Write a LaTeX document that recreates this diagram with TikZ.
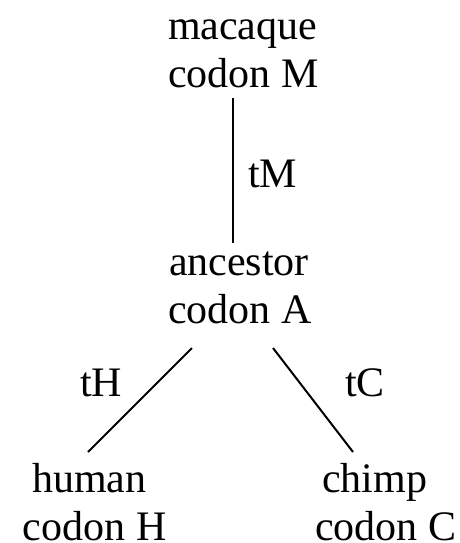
\documentclass[tikz,border=0pt]{standalone}
\usepackage{fontspec}
\setmainfont{Liberation Serif}
\begin{document}
\begin{tikzpicture}[x=1pt,y=-1pt,
  lbl/.style={inner sep=0pt,outer sep=0pt,anchor=base west,font=\fontsize{42}{48}\selectfont},
  edge/.style={line width=2pt,black}]
\useasboundingbox (0,0) rectangle (459,543);
% texts
\node[lbl] (macaque) at (168,40) {macaque};
\node[lbl] (codonM) at (168,88) {codon M};
\node[lbl] (tM) at (248,187) {tM};
\node[lbl] (ancestor) at (169,275) {ancestor};
\node[lbl] (codonA) at (168,323) {codon A};
\node[lbl] (tH) at (80,396) {tH};
\node[lbl] (tC) at (345,396) {tC};
\node[lbl] (human) at (32,492) {human};
\node[lbl] (codonH) at (23,540) {codon H};
\node[lbl] (chimp) at (322,492) {chimp};
\node[lbl] (codonC) at (315,540) {codon C};
% connector ends
\coordinate (mtop) at (233,98);
\coordinate (abot) at (233,243);
\coordinate (aleft) at (192,348);
\coordinate (hend) at (88,452);
\coordinate (aright) at (273,348);
\coordinate (cend) at (353,452);
\draw[edge] (mtop) -- (abot);
\draw[edge] (aleft) -- (hend);
\draw[edge] (aright) -- (cend);
\end{tikzpicture}
\end{document}
